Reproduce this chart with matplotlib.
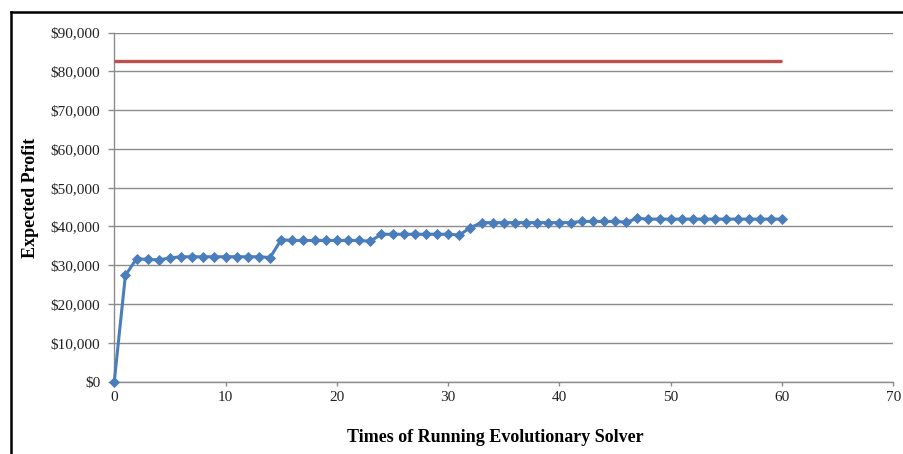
import matplotlib.pyplot as plt
from matplotlib.ticker import FuncFormatter, MultipleLocator
from matplotlib.lines import Line2D

# Expected profit after each run of the evolutionary solver
runs = list(range(61))
profit = [0, 27400, 31700, 31500, 31400, 31900,
          32200, 32200, 32200, 32200, 32200, 32200, 32200, 32200,
          32000, 36600,
          36400, 36400, 36400, 36400, 36400, 36400, 36400,
          36200,
          38000, 38000, 38000, 38000, 38000, 38000, 38000,
          37800, 39700, 41000,
          41000, 41000, 41000, 41000, 41000, 41000, 41000, 41000,
          41300, 41300, 41300, 41300,
          41100, 42100,
          41900, 41900, 41900, 41900, 41900, 41900, 41900,
          41900, 41900, 41900, 41900, 41900, 41900]

# Upper bound (flat reference line)
bound_x = [0, 60]
bound_y = [82600, 82600]

blue = "#4a7ebb"
red = "#c0504d"
grid = "#8c8c8c"

plt.rcParams["font.family"] = ["Liberation Serif", "DejaVu Serif"]

fig = plt.figure(figsize=(9.04, 4.54), dpi=100)
ax = fig.add_axes([0.1264, 0.1593, 0.8618, 0.7691])

ax.plot(bound_x, bound_y, color=red, lw=2.4, solid_capstyle="butt", zorder=3)
ax.plot(runs, profit, color=blue, lw=2.2, marker="D", ms=5.3,
        markeredgewidth=0.6, markeredgecolor=blue, zorder=4, clip_on=False)

ax.set_xlim(0, 70)
ax.set_ylim(0, 90000)
ax.xaxis.set_major_locator(MultipleLocator(10))
ax.yaxis.set_major_locator(MultipleLocator(10000))
ax.yaxis.set_major_formatter(FuncFormatter(lambda v, p: f"${v:,.0f}"))

ax.grid(axis="y", color=grid, lw=1.0)
ax.set_axisbelow(True)
for s in ("top", "right"):
    ax.spines[s].set_visible(False)
for s in ("left", "bottom"):
    ax.spines[s].set_color(grid)
    ax.spines[s].set_linewidth(1.0)

ax.tick_params(axis="x", direction="out", length=3, width=1, color=grid,
               labelsize=11, labelcolor="#222222", pad=4)
ax.tick_params(axis="y", direction="out", length=4, width=1, color=grid,
               labelsize=11, labelcolor="#222222", pad=6)

ax.set_xlabel("Times of Running Evolutionary Solver", fontsize=13,
              fontweight="bold")
ax.set_ylabel("Expected Profit", fontsize=13, fontweight="bold")
ax.xaxis.set_label_coords(0.4887, -0.135)
ax.yaxis.set_label_coords(-0.0965, 0.526)

# frame around the chart area (only top and left fall inside the image)
fig.add_artist(Line2D([11 / 904, 11 / 904], [0, 1 - 12 / 454],
                      color="black", lw=1.8, transform=fig.transFigure))
fig.add_artist(Line2D([11 / 904, 1], [1 - 12 / 454, 1 - 12 / 454],
                      color="black", lw=1.8, transform=fig.transFigure))

fig.savefig("out.png", dpi=100)
